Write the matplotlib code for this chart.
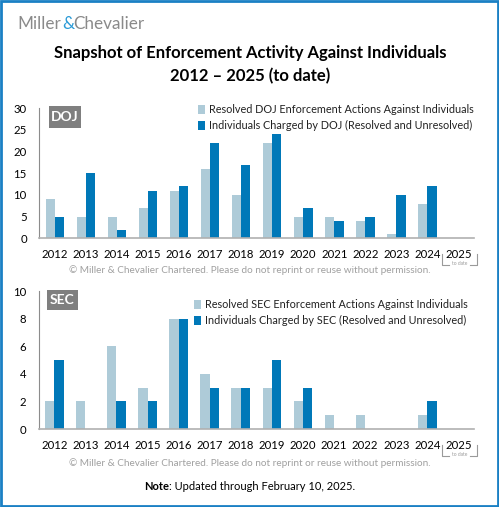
import numpy as np
import matplotlib
matplotlib.use('Agg')
import matplotlib.pyplot as plt
from matplotlib.patches import Rectangle
from matplotlib.lines import Line2D

years = ['2012', '2013', '2014', '2015', '2016', '2017', '2018', '2019',
         '2020', '2021', '2022', '2023', '2024', '2025']
doj_resolved = [9, 5, 5, 7, 11, 16, 10, 22, 5, 5, 4, 1, 8, 0]
doj_charged = [5, 15, 2, 11, 12, 22, 17, 24, 7, 4, 5, 10, 12, 0]
sec_resolved = [2, 2, 6, 3, 8, 4, 3, 3, 2, 1, 1, 0, 1, 0]
sec_charged = [5, 0, 2, 2, 8, 3, 3, 5, 3, 0, 0, 0, 2, 0]

LIGHT = '#aecbd8'
DARK = '#0078b8'
W, H = 499, 507
FONT = 'Lato'
plt.rcParams['font.family'] = [FONT, 'DejaVu Sans']

fig = plt.figure(figsize=(W / 100, H / 100), dpi=100)
r = fig.canvas.get_renderer()

def px(x, y):
    # pixel coords (from top-left) to figure fraction
    return x / W, 1 - y / H

# border
fig.patches.append(Rectangle((0.002, 0.002), 0.996, 0.996, transform=fig.transFigure,
                             fill=False, edgecolor='#1a80c4', linewidth=2))

# logo
fig.text(*px(17, 24), 'Miller', color='#8a8a8a', fontsize=12.3, va='center', ha='left')
fig.text(*px(62, 24), '&', color='#2a9ad6', fontsize=12.3, va='center', ha='left')
fig.text(*px(73.5, 24), 'Chevalier', color='#8a8a8a', fontsize=12.3, va='center', ha='left')

# title
fig.text(*px(250, 53), 'Snapshot of Enforcement Activity Against Individuals',
         fontsize=12, fontweight='bold', ha='center', va='center')
fig.text(*px(250, 76), '2012 \u2013 2025 (to date)',
         fontsize=12, fontweight='bold', ha='center', va='center')


def panel(left, top, bottom, ymax, step, res, chg, tag, lab_res, lab_chg, leg_xy, tagbox):
    x0, y0 = px(left, bottom)
    ax = fig.add_axes([x0, y0, (474 - left) / W, (bottom - top) / H])
    x = np.arange(len(years))
    ax.bar(x - 0.15, res, 0.3, color=LIGHT, label=lab_res)
    ax.bar(x + 0.15, chg, 0.3, color=DARK, label=lab_chg)
    ax.set_xlim(-0.5, len(years) - 0.5)
    ax.set_ylim(0, ymax)
    ax.set_yticks(np.arange(0, ymax + 1, step))
    ax.set_xticks(x)
    ax.set_xticklabels(years)
    for s in ['top', 'right']:
        ax.spines[s].set_visible(False)
    ax.spines['left'].set_color('#8c8c8c')
    ax.spines['bottom'].set_color('#b0b0b0')
    ax.spines['bottom'].set_linewidth(1.2)
    ax.tick_params(length=0, labelsize=8.2)
    ax.tick_params(axis='x', pad=8)
    ax.tick_params(axis='y', pad=9)
    ax.legend(loc='upper right', bbox_to_anchor=px(*leg_xy), bbox_transform=fig.transFigure,
              frameon=False, fontsize=7.8, handlelength=0.7, handleheight=0.9,
              handletextpad=0.35, labelspacing=0.45, borderpad=0, borderaxespad=0,
              labelcolor='#222222')
    # tag box
    bx, by, bw, bh = tagbox
    fig.patches.append(Rectangle(px(bx, by + bh), bw / W, bh / H, transform=fig.transFigure,
                                 facecolor='#7f7f7f', edgecolor='none'))
    fig.text(*px(bx + bw / 2, by + bh / 2), tag, color='white', fontweight='bold',
             fontsize=10, ha='center', va='center')
    # "to date" bracket under 2025
    yb = bottom + 27
    for xs, ys in [([442, 442, 449], [yb - 11, yb, yb]), ([470, 477, 477], [yb, yb, yb - 11])]:
        fx = [v / W for v in xs]
        fy = [1 - v / H for v in ys]
        fig.lines.append(Line2D(fx, fy, transform=fig.transFigure, color='#9a9a9a', lw=0.8))
    fig.text(*px(459.5, yb - 2), 'to date', fontsize=3.5, color='#9a9a9a', ha='center', va='center')
    return ax


panel(39.3, 108.3, 238.3, 30, 5, doj_resolved, doj_charged, 'DOJ',
      'Resolved DOJ Enforcement Actions Against Individuals',
      'Individuals Charged by DOJ (Resolved and Unresolved)', (474, 104), (49, 106, 32, 22))
panel(38.7, 291, 429, 10, 2, sec_resolved, sec_charged, 'SEC',
      'Resolved SEC Enforcement Actions Against Individuals',
      'Individuals Charged by SEC (Resolved and Unresolved)', (468, 299), (47, 290, 31, 20))

cr = '\u00a9 Miller & Chevalier Chartered. Please do not reprint or reuse without permission.'
fig.text(*px(250, 270), cr, fontsize=7.2, color='#a0a0a0', ha='center', va='center')
fig.text(*px(250, 463), cr, fontsize=7.2, color='#a0a0a0', ha='center', va='center')

# note line, bold "Note" followed by normal text, centered together
t1 = fig.text(0, 0, 'Note', fontsize=8, fontweight='bold', va='center')
t2 = fig.text(0, 0, ': Updated through February 10, 2025.', fontsize=8, va='center')
w1 = t1.get_window_extent(r).width
w2 = t2.get_window_extent(r).width
start = 250 - (w1 + w2) / 2
t1.set_position(px(start, 487))
t2.set_position(px(start + w1, 487))

fig.savefig('out.png', dpi=100)
